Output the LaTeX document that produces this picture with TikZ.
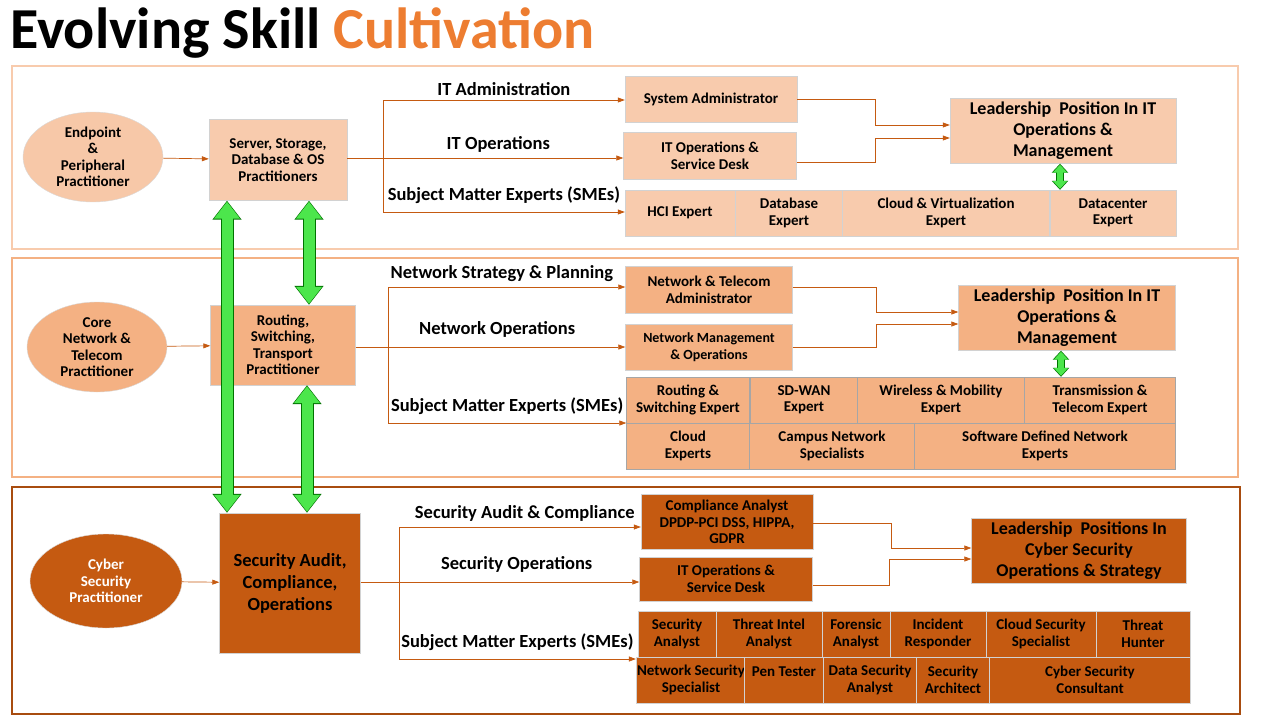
\documentclass[tikz,border=0pt]{standalone}
\usepackage{fontspec}
\setmainfont{Carlito}
\usetikzlibrary{arrows.meta,shapes.geometric}
\definecolor{peach}{HTML}{F8CBAD}
\definecolor{salmon}{HTML}{F4B183}
\definecolor{rust}{HTML}{C55A11}
\definecolor{accent}{HTML}{ED7D31}
\definecolor{lime}{HTML}{4CE64C}
\begin{document}
\begin{tikzpicture}[x=1pt, y=-1pt, font=\bfseries\fontsize{15}{16.5}\selectfont,
    box/.style={draw=gray!35, align=center, inner sep=1pt},
    flow/.style={draw=rust, line width=0.7pt, -{Triangle[length=7pt,width=5pt]}},
    link/.style={draw=rust, line width=0.7pt},
    lab/.style={font=\bfseries\fontsize{18.5}{20}\selectfont},
    lead/.style={box, font=\bfseries\fontsize{18}{21}\selectfont},
    practitioner/.style={ellipse, draw=gray!30, align=center, inner sep=0pt},
    swap outline/.style={line width=13pt, draw=green!45!black,
      {Triangle[length=19pt,width=28pt]}-{Triangle[length=19pt,width=28pt]}},
    swap/.style={line width=11pt, draw=lime, shorten <=1pt, shorten >=1pt,
      {Triangle[length=17pt,width=25pt]}-{Triangle[length=17pt,width=25pt]}},
    small swap outline/.style={line width=8pt, draw=green!45!black,
      {Triangle[length=9pt,width=16pt]}-{Triangle[length=9pt,width=16pt]}},
    small swap/.style={line width=6pt, draw=lime, shorten <=1pt, shorten >=1pt,
      {Triangle[length=8pt,width=14pt]}-{Triangle[length=8pt,width=14pt]}},
  ]

  \useasboundingbox (0,0) rectangle (1280,720);

  \node[anchor=base west, inner sep=0, font=\bfseries\fontsize{58}{60}\selectfont]
    at (10,48) {Evolving Skill \textcolor{accent}{Cultivation}};

  % bands
  \draw[peach, line width=2.5pt] (12,66) rectangle (1238,249);
  \draw[salmon, line width=2.5pt] (12,258) rectangle (1238,477);
  \draw[rust!85!black, line width=2.5pt] (12,487) rectangle (1240,714);

  % compute band
  \node[practitioner, fill=salmon!70, minimum width=140, minimum height=90] (endpoint) at (93,157)
    {Endpoint\\\&\\Peripheral\\Practitioner};
  \node[box, fill=peach, minimum width=138, minimum height=81] (server) at (278,160)
    {Server, Storage,\\Database \& OS\\Practitioners};
  \node[box, fill=peach, minimum width=172, minimum height=46] (sysadm) at (711,99) {System Administrator};
  \node[box, fill=peach, minimum width=173, minimum height=47] (itops) at (710,156) {IT Operations \&\\Service Desk};
  \node[lead, fill=peach, minimum width=226, minimum height=65] (lead1) at (1063,131)
    {Leadership\ \ Position In IT\\Operations \&\\Management};
  \foreach \n/\cx/\w/\t in {hci/680/110/HCI Expert, db/789/108/{Database\\Expert},
      cloud/946/207/{Cloud \& Virtualization\\Expert}, dc/1113/126/{Datacenter\\Expert}}
    \node[box, fill=peach, minimum width=\w, minimum height=46] (\n) at (\cx,213) {\t};

  \coordinate (fork1) at (383,158);
  \draw[flow] (endpoint) -- (server);
  \draw[link] (server.east |- fork1) -- (fork1) (383,100) -- (383,212);
  \draw[flow] (383,100) -- node[lab, above=1pt] {IT Administration} (sysadm.west |- 0,100);
  \draw[flow] (fork1) -- node[lab, above=2pt, pos=0.48] {IT Operations} (itops.west |- fork1);
  \draw[flow] (383,212) -- node[lab, above=5pt, pos=0.5] {Subject Matter Experts (SMEs)} (hci.west |- 0,212);
  \draw[flow] (sysadm.east |- 0,99) -| (875,125) -- (lead1.west |- 0,125);
  \draw[flow] (itops.east |- 0,162) -| (875,138) -- (lead1.west |- 0,138);

  % network band
  \node[practitioner, fill=salmon, minimum width=140, minimum height=90] (core) at (97,347)
    {Core\\Network \&\\Telecom\\Practitioner};
  \node[box, fill=salmon, minimum width=145, minimum height=80] (routing) at (283,345)
    {Routing,\\Switching,\\Transport\\Practitioner};
  \node[box, fill=salmon, minimum width=167, minimum height=47] (netadm) at (709,290) {Network \& Telecom\\Administrator};
  \node[box, fill=salmon, minimum width=167, minimum height=46] (netmgmt) at (709,347)
    {\fontsize{14}{16}\selectfont Network Management\\\fontsize{14}{16}\selectfont \& Operations};
  \node[lead, fill=salmon, minimum width=217, minimum height=65] (lead2) at (1067,318)
    {Leadership\ \ Position In IT\\Operations \&\\Management};
  \foreach \n/\cx/\w/\t in {rse/688/123/{Routing \&\\Switching Expert}, sdwan/804/108/{SD-WAN\\Expert},
      wireless/941/167/{Wireless \& Mobility\\Expert}, trans/1100/151/{Transmission \&\\Telecom Expert}}
    \node[box, draw=gray!70, fill=salmon, minimum width=\w, minimum height=46] (\n) at (\cx,400) {\t};
  \foreach \n/\cx/\w/\t in {cldx/688/123/{Cloud\\Experts}, campus/832/165/{Campus Network\\Specialists},
      sdn/1045/261/{Software Defined Network\\Experts}}
    \node[box, draw=gray!70, fill=salmon, minimum width=\w, minimum height=46] (\n) at (\cx,446) {\t};

  \coordinate (fork2) at (388,347);
  \draw[flow] (core) -- (routing);
  \draw[link] (routing.east |- fork2) -- (fork2) (388,287) -- (388,423);
  \draw[flow] (388,287) -- node[lab, above=2pt, pos=0.48] {Network Strategy \& Planning} (netadm.west |- 0,287);
  \draw[flow] (fork2) -- node[lab, above=6pt, pos=0.46] {Network Operations} (netmgmt.west |- fork2);
  \draw[flow] (388,423) -- node[lab, above=5pt, pos=0.5] {Subject Matter Experts (SMEs)} (rse.west |- 0,423);
  \draw[flow] (netadm.east |- 0,287) -| (876,312) -- (lead2.west |- 0,312);
  \draw[flow] (netmgmt.east |- 0,347) -| (876,324) -- (lead2.west |- 0,324);

  % security band
  \node[practitioner, fill=rust, text=white, minimum width=152, minimum height=94] (cyber) at (106,581)
    {Cyber\\Security\\Practitioner};
  \node[box, fill=rust, minimum width=141, minimum height=140, font=\bfseries\fontsize{18.5}{22}\selectfont]
    (secaudit) at (290,583) {Security Audit,\\Compliance,\\Operations};
  \node[box, fill=rust, minimum width=172, minimum height=55] (compl) at (727,522)
    {Compliance Analyst\\DPDP-PCI DSS, HIPPA,\\GDPR};
  \node[box, fill=rust, minimum width=173, minimum height=44] (secops) at (726,579) {IT Operations \&\\Service Desk};
  \node[lead, fill=rust, minimum width=215, minimum height=65] (lead3) at (1079,551)
    {Leadership\ \ Positions In\\Cyber Security\\Operations \& Strategy};
  \foreach \n/\cx/\w/\t in {secan/677/78/{Security\\Analyst}, intel/769/106/{Threat Intel\\Analyst},
      foren/856/68/{Forensic\\Analyst}, incid/938/96/{Incident\\Responder},
      cldsec/1041/110/{Cloud Security\\Specialist}, hunter/1143/94/{Threat\\Hunter}}
    \node[box, fill=rust, minimum width=\w, minimum height=46] (\n) at (\cx,634) {\t};
  \foreach \n/\cx/\w/\t in {netsec/691/106/{Network Security\\Specialist}, pen/784/80/{Pen Tester\\ },
      datasec/870/93/{Data Security\\Analyst}, arch/953/73/{Security\\Architect},
      consult/1090/201/{Cyber Security\\Consultant}}
    \node[box, fill=rust, minimum width=\w, minimum height=46] (\n) at (\cx,680) {\t};

  \coordinate (fork3) at (399,582);
  \draw[flow] (cyber) -- (secaudit);
  \draw[link] (secaudit.east |- fork3) -- (fork3) (399,527) -- (399,659);
  \draw[flow] (399,527) -- node[lab, above=2pt, pos=0.52] {Security Audit \& Compliance} (compl.west |- 0,527);
  \draw[flow] (fork3) -- node[lab, above=6pt, pos=0.49] {Security Operations} (secops.west |- fork3);
  \draw[flow] (399,659) -- node[lab, above=5pt, pos=0.5] {Subject Matter Experts (SMEs)} (netsec.west |- 0,659);
  \draw[flow] (compl.east |- 0,523) -| (891,548) -- (lead3.west |- 0,548);
  \draw[flow] (secops.east |- 0,585) -| (889,559) -- (lead3.west |- 0,559);

  % green exchange arrows
  \foreach \style in {swap outline,swap} {
    \draw[\style] (server.south -| 227,0) -- (secaudit.north -| 227,0);
    \draw[\style] (server.south -| 309,0) -- (routing.north -| 309,0);
    \draw[\style] (routing.south -| 307,0) -- (secaudit.north -| 307,0);
  }
  \foreach \style in {small swap outline,small swap} {
    \draw[\style] (lead1.south -| 1060,0) -- (dc.north -| 1060,0);
    \draw[\style] (lead2.south -| 1061,0) -- (trans.north -| 1061,0);
  }

\end{tikzpicture}
\end{document}
